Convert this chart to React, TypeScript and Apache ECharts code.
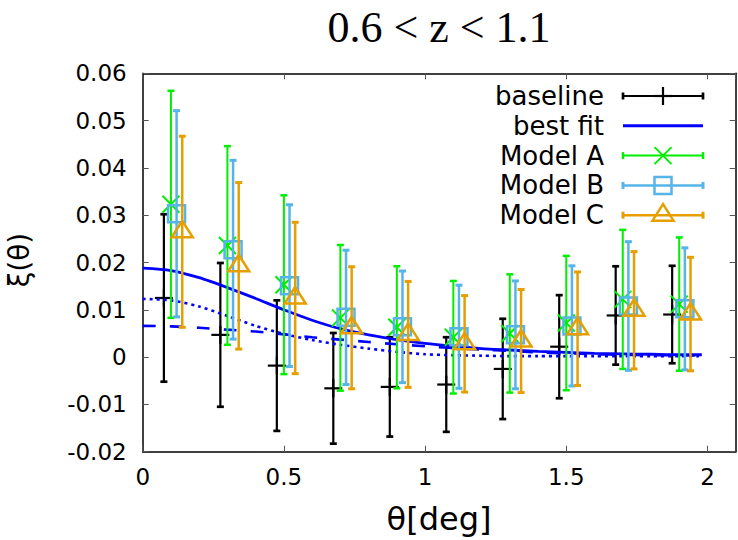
import React, { useEffect, useRef } from 'react';
import * as echarts from 'echarts';

// ---------- data ----------
const thetaBaseline = [0.075, 0.275, 0.475, 0.675, 0.875, 1.075, 1.275, 1.475, 1.675, 1.875];
const xiBaseline = [0.0125, 0.0047, -0.0018, -0.0066, -0.0063, -0.0058, -0.0025, 0.0022, 0.0088, 0.009];
const errBaseline = [0.0177, 0.0152, 0.0138, 0.0117, 0.0105, 0.01, 0.0106, 0.0109, 0.0104, 0.0103];

const thetaA = [0.1, 0.3, 0.5, 0.7, 0.9, 1.1, 1.3, 1.5, 1.7, 1.9];
const xiA = [0.0323, 0.0236, 0.0153, 0.0083, 0.0063, 0.0042, 0.005, 0.0072, 0.0122, 0.0112];
const errA = [0.024, 0.021, 0.0189, 0.0154, 0.0129, 0.0119, 0.0125, 0.0142, 0.0147, 0.0141];

const thetaB = [0.12, 0.32, 0.52, 0.72, 0.92, 1.12, 1.32, 1.52, 1.72, 1.92];
const xiB = [0.0303, 0.0227, 0.0151, 0.0084, 0.0064, 0.0043, 0.0047, 0.0066, 0.0108, 0.0102];
const errB = [0.0218, 0.0189, 0.0171, 0.0142, 0.0118, 0.0109, 0.0114, 0.0127, 0.0136, 0.0129];

const thetaC = [0.14, 0.34, 0.54, 0.74, 0.94, 1.14, 1.34, 1.54, 1.74, 1.94];
const xiC = [0.0265, 0.0193, 0.0125, 0.0062, 0.0048, 0.0028, 0.0034, 0.006, 0.0099, 0.0091];
const errC = [0.0202, 0.0176, 0.016, 0.0129, 0.0112, 0.0102, 0.0109, 0.012, 0.0124, 0.012];

const thetaFit = [0, 0.1, 0.2, 0.3, 0.4, 0.5, 0.6, 0.7, 0.8, 0.9, 1.0, 1.1, 1.2, 1.3, 1.4, 1.5, 1.6, 1.7, 1.8, 1.9, 1.98];
const bestFit = [0.0188, 0.0183, 0.0168, 0.0147, 0.0124, 0.01, 0.0078, 0.006, 0.0047, 0.0037, 0.0029, 0.0023, 0.0018, 0.0015, 0.0012, 0.001, 0.0008, 0.0007, 0.0006, 0.0005, 0.0005];
const oneHalo = [0.0123, 0.012, 0.0107, 0.0087, 0.0066, 0.0049, 0.0036, 0.0026, 0.0018, 0.0011, 0.0006, 0.0004, 0.0003, 0.0002, 0.0002, 0.0002, 0.0002, 0.0002, 0.0002, 0.0002, 0.0002];
const twoHalo = [0.0066, 0.0065, 0.0062, 0.0058, 0.0054, 0.0048, 0.0042, 0.0037, 0.0032, 0.0027, 0.0023, 0.0019, 0.0016, 0.0013, 0.001, 0.0008, 0.0006, 0.0005, 0.0004, 0.0004, 0.0003];

const xTicks = [0, 0.5, 1, 1.5, 2];
const yTicks = [-0.02, -0.01, 0, 0.01, 0.02, 0.03, 0.04, 0.05, 0.06];

const legendLabels = ['baseline', 'best fit', 'Model A', 'Model B', 'Model C'];

// ---------- styles ----------
const BLACK = '#000000';
const FITBLUE = '#0000ff';
const GREEN = '#00ee00';
const SKY = '#56b4e9';
const ORANGE = '#e69f00';
const SANS = 'DejaVu Sans';

type Kind = 'plus' | 'cross' | 'square' | 'triangle';

const ln = (x1: number, y1: number, x2: number, y2: number, color: string, lw: number) => ({
  type: 'line',
  shape: { x1, y1, x2, y2 },
  style: { stroke: color, lineWidth: lw, fill: 'none' },
});

const markerEls = (kind: Kind, cx: number, cy: number, color: string, lw: number): any[] => {
  switch (kind) {
    case 'plus':
      return [ln(cx - 9, cy, cx + 9, cy, color, lw), ln(cx, cy - 9, cx, cy + 9, color, lw)];
    case 'cross':
      return [ln(cx - 8.5, cy - 8.5, cx + 8.5, cy + 8.5, color, lw), ln(cx - 8.5, cy + 8.5, cx + 8.5, cy - 8.5, color, lw)];
    case 'square':
      return [{ type: 'rect', shape: { x: cx - 8.5, y: cy - 8.5, width: 17, height: 17 }, style: { fill: 'none', stroke: color, lineWidth: lw } }];
    case 'triangle':
      return [{
        type: 'polygon',
        shape: { points: [[cx, cy - 11], [cx - 10.5, cy + 5.5], [cx + 10.5, cy + 5.5]] },
        style: { fill: 'none', stroke: color, lineWidth: lw },
      }];
  }
  return [];
};

const errSeries = (name: string, xs: number[], ys: number[], es: number[], color: string, kind: Kind, lw: number, z: number) => ({
  name,
  type: 'custom',
  z,
  xAxisIndex: 0,
  yAxisIndex: 0,
  encode: { x: 0, y: 1 },
  data: xs.map((x, i) => [x, ys[i], es[i]]),
  renderItem: (_params: any, api: any) => {
    const x = api.value(0);
    const y = api.value(1);
    const e = api.value(2);
    const top = api.coord([x, y + e]);
    const bot = api.coord([x, y - e]);
    const c = api.coord([x, y]);
    const cap = 3.5;
    return {
      type: 'group',
      children: [
        ln(top[0], top[1], bot[0], bot[1], color, lw),
        ln(top[0] - cap, top[1], top[0] + cap, top[1], color, lw + 0.5),
        ln(bot[0] - cap, bot[1], bot[0] + cap, bot[1], color, lw + 0.5),
        ...markerEls(kind, c[0], c[1], color, lw),
      ],
    };
  },
});

const curve = (name: string, ys: number[], dash: any, width: number) => ({
  name,
  type: 'line',
  z: 3,
  xAxisIndex: 0,
  yAxisIndex: 0,
  data: thetaFit.map((t, i) => [t, ys[i]]),
  showSymbol: false,
  smooth: 0.25,
  lineStyle: { color: FITBLUE, width, type: dash },
  itemStyle: { color: FITBLUE },
});

const fmtX = (v: number) => {
  const hit = xTicks.find((t) => Math.abs(t - v) < 1e-6);
  return hit === undefined ? '' : String(hit);
};
const fmtY = (v: number) => {
  const hit = yTicks.find((t) => Math.abs(t - v) < 1e-6);
  return hit === undefined ? '' : String(hit);
};

const axisLine = { show: true, onZero: false, lineStyle: { color: '#000', width: 1.5 } };
const axisTick = { show: true, inside: true, length: 6, lineStyle: { color: '#555', width: 1 } };

export default function App() {
  const ref = useRef<HTMLDivElement>(null);

  useEffect(() => {
    if (!ref.current) return;
    const chart = echarts.init(ref.current, undefined, { renderer: 'svg' });

    // legend (gnuplot style key)
    const legendKinds: (Kind | null)[] = ['plus', null, 'cross', 'square', 'triangle'];
    const legendColors = [BLACK, FITBLUE, GREEN, SKY, ORANGE];
    const legendLw = [2.2, 3, 2, 2.5, 2.5];
    const LX1 = 623, LX2 = 703, LXM = 663, LTX = 604, LY0 = 96, LDY = 29.8;
    const legendEls: any[] = [];
    legendLabels.forEach((label, i) => {
      const y = LY0 + i * LDY;
      legendEls.push({
        type: 'text',
        x: LTX,
        y,
        style: {
          text: label, fill: '#000', fontFamily: SANS, fontSize: 26,
          textAlign: 'right', align: 'right', textVerticalAlign: 'middle', verticalAlign: 'middle',
        },
      });
      const col = legendColors[i];
      const lw = legendLw[i];
      legendEls.push(ln(LX1, y, LX2, y, col, lw));
      const k = legendKinds[i];
      if (k) {
        legendEls.push(ln(LX1, y - 3.5, LX1, y + 3.5, col, lw + 0.5));
        legendEls.push(ln(LX2, y - 3.5, LX2, y + 3.5, col, lw + 0.5));
        markerEls(k, LXM, y, col, lw).forEach((el) => legendEls.push(el));
      }
    });

    const option: any = {
      animation: false,
      backgroundColor: '#ffffff',
      grid: { left: 142.7, right: 2.3, top: 73.3, bottom: 88.3, containLabel: false },
      xAxis: [
        {
          type: 'value', min: 0, max: 2.1, interval: 0.5, position: 'bottom',
          axisLine, axisTick, splitLine: { show: false },
          axisLabel: { formatter: fmtX, fontFamily: SANS, fontSize: 23, color: '#000', margin: 14, showMaxLabel: false },
        },
        {
          type: 'value', min: 0, max: 2.1, interval: 0.5, position: 'top',
          axisLine, axisTick, splitLine: { show: false }, axisLabel: { show: false },
        },
      ],
      yAxis: [
        {
          type: 'value', min: -0.02, max: 0.06, interval: 0.01, position: 'left',
          axisLine, axisTick, splitLine: { show: false },
          axisLabel: { formatter: fmtY, fontFamily: SANS, fontSize: 23, color: '#000', margin: 16 },
        },
        {
          type: 'value', min: -0.02, max: 0.06, interval: 0.01, position: 'right',
          axisLine, axisTick, splitLine: { show: false }, axisLabel: { show: false },
        },
      ],
      graphic: [
        {
          type: 'text', x: 439, y: 27,
          style: {
            text: '0.6 < z < 1.1', fill: '#000', fontFamily: 'Liberation Serif', fontSize: 44,
            textAlign: 'center', align: 'center', textVerticalAlign: 'middle', verticalAlign: 'middle',
          },
        },
        {
          type: 'text', x: 439, y: 519,
          style: {
            text: 'θ[deg]', fill: '#000', fontFamily: SANS, fontSize: 32,
            textAlign: 'center', align: 'center', textVerticalAlign: 'middle', verticalAlign: 'middle',
          },
        },
        {
          type: 'text', x: 19, y: 260, rotation: Math.PI / 2,
          style: {
            text: 'ξ(θ)', fill: '#000', fontFamily: SANS, fontSize: 28,
            textAlign: 'center', align: 'center', textVerticalAlign: 'middle', verticalAlign: 'middle',
          },
        },
        ...legendEls,
      ],
      series: [
        errSeries('baseline', thetaBaseline, xiBaseline, errBaseline, BLACK, 'plus', 2.2, 2),
        curve('best fit', bestFit, 'solid', 2.8),
        curve('1-halo', oneHalo, [3, 4], 2.6),
        curve('2-halo', twoHalo, [13, 14], 2.6),
        errSeries('Model A', thetaA, xiA, errA, GREEN, 'cross', 2, 4),
        errSeries('Model B', thetaB, xiB, errB, SKY, 'square', 2.5, 5),
        errSeries('Model C', thetaC, xiC, errC, ORANGE, 'triangle', 2.5, 6),
      ],
    };
    chart.setOption(option);
    return () => chart.dispose();
  }, []);

  return (
    <div
      ref={ref}
      style={{ position: 'fixed', left: 0, top: 0, width: 738, height: 540, background: '#fff' }}
    />
  );
}
